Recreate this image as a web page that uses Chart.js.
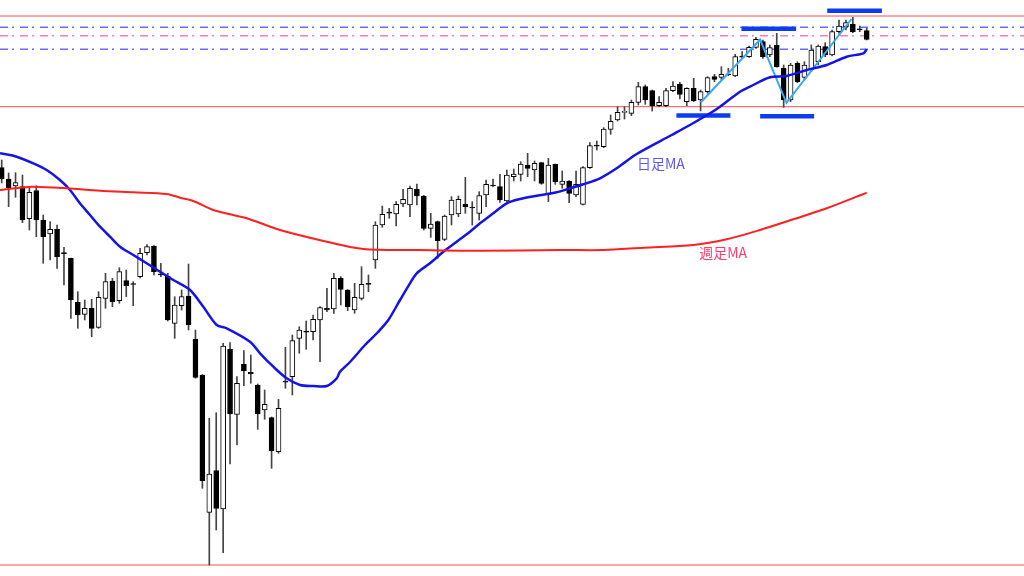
<!DOCTYPE html>
<html>
<head>
<meta charset="utf-8">
<script src="https://cdn.jsdelivr.net/npm/chart.js@4.4.1/dist/chart.umd.min.js"></script>
<style>
  html,body{margin:0;padding:0;background:#fff}
  #wrap{width:1024px;height:576px;position:relative}
</style>
</head>
<body>
<div id="wrap"><canvas id="chart"></canvas></div>
<script>
// Daily candles (index 0 = leftmost candle)
const opens = [10323,10210,10140,10133,9813,10093,9800,9660,9707,9470,9417,8977,8857,8917,8727,9017,9190,8993,9193,9160,
  9233,9473,9540,9257,9240,8767,8943,9040,8610,8250,6877,7293,6910,8507,7857,8357,8277,8150,7900,7823,
  7483,8183,8233,8617,8683,8683,8800,8917,8910,9217,9100,8900,9017,9167,9400,9750,9873,9860,9960,9950,
  10107,10040,9717,9783,9607,9850,9860,9957,9925,9867,10050,10150,10133,9990,10233,10257,10350,10300,10373,10057,
  10357,10157,10190,10050,9957,10323,10543,10533,10705,10800,10877,10867,10977,11133,11093,10943,10943,11093,11157,10983,
  11117,11000,11083,11233,11227,11257,11240,11433,11433,11527,11583,11450,11550,11317,11000,11367,11227,11300,11383,11533,
  11450,11683,11733,11760,11707,11693];
const highs = [10400,10270,10273,10250,10123,10143,9850,9783,9750,9527,9420,9083,9000,9007,9083,9267,9217,9323,9300,9183,
  9517,9553,9545,9367,9267,9033,9100,9360,8700,8255,7817,7873,8567,8573,8233,8493,8450,8160,8100,7830,
  8007,8527,8650,8733,8790,8850,8933,9117,9267,9233,9105,9167,9333,9250,9783,9940,9917,9983,10107,10140,
  10160,10045,9867,9790,9850,10033,10040,10227,9983,10083,10200,10210,10257,10300,10310,10383,10467,10390,10375,10417,
  10360,10290,10195,10290,10333,10573,10590,10723,10850,10933,10933,11000,11177,11150,11100,11033,11117,11183,11177,11123,
  11217,11100,11233,11257,11333,11317,11457,11483,11540,11627,11600,11550,11667,11350,11367,11383,11383,11550,11550,11573,
  11700,11800,11800,11827,11740,11717];
const lows = [10170,9933,10027,9773,9700,9633,9367,9400,9317,9150,8817,8717,8800,8633,8717,8917,8933,8967,9033,8943,
  9220,9450,9250,9233,8790,8617,8900,8700,8217,7117,6350,6700,6473,7360,7550,8143,8167,7707,7807,7317,
  7467,8117,8050,8467,8507,8600,8383,8883,8867,8950,8893,8867,9000,9083,9317,9727,9817,9740,9933,9833,
  9950,9700,9627,9417,9593,9750,9833,9867,9750,9800,9933,10133,9977,9983,10190,10190,10233,10190,10157,9983,
  10157,10117,9973,10033,9950,10317,10500,10523,10657,10790,10810,10843,10950,10957,10890,10933,10933,11083,11010,10943,
  10983,10890,11067,11183,11200,11243,11233,11417,11427,11517,11417,11433,11327,10927,10983,11173,11200,11283,11350,11433,
  11440,11667,11700,11673,11683,11600];
const closes = [10210,10123,10173,9800,10077,9800,9633,9707,9433,9464,9000,8850,8917,8717,9027,9183,8983,9283,9143,9155,
  9467,9533,9283,9252,8800,8950,9033,8750,8227,7193,7260,6917,8540,7860,8167,8290,8260,7860,7957,7493,
  7917,8178,8593,8700,8678,8807,8923,8900,9217,9107,8933,9027,9157,9157,9750,9857,9868,9957,10007,10117,
  10040,9717,9760,9593,9840,10000,10007,9933,9920,10045,10157,10140,10000,10250,10260,10360,10317,10367,10167,10350,
  10183,10190,10067,10157,10323,10543,10538,10710,10787,10877,10883,10977,11133,11000,10940,10977,11093,11140,11057,11117,
  10990,11083,11223,11207,11257,11252,11433,11428,11527,11607,11433,11523,11333,11000,11350,11183,11350,11500,11540,11450,
  11683,11740,11773,11683,11702,11607];

// Daily MA, read at sample candle positions
const dailyMaX = [-0.25,1.68,4.57,6.5,8.42,9.87,11.31,12.76,14.21,15.65,17.1,19.02,20.95,22.88,24.8,27.21,29.13,31.07,32.51,35.88,
  37.33,39.25,41.18,43.11,45.03,46.97,48.41,48.89,50.33,52.5,54.38,55.87,57.56,59.0,59.97,61.89,63.82,65.75,67.67,69.12,
  71.04,72.98,74.9,77.31,80.2,82.12,84.05,86.46,88.87,91.76,96.82,99.46,102.36,103.8,106.69,108.13,111.02,113.44,116.33,119.22,
  122.11,124.51,125.0];
const dailyMaY = [10467,10443,10367,10300,10200,10100,9967,9850,9733,9633,9533,9450,9367,9283,9200,9100,8933,8750,8717,8583,
  8467,8333,8217,8150,8140,8140,8217,8283,8380,8550,8680,8800,9000,9167,9267,9367,9483,9583,9683,9767,
  9867,9967,10010,10043,10077,10117,10157,10217,10317,10460,10650,10750,10867,10933,11083,11133,11227,11240,11300,11350,
  11433,11467,11507];

// Weekly MA
const weeklyMaX = [-0.25,2.64,4.57,9.39,14.21,19.02,23.84,25.77,27.69,30.58,35.4,40.22,46.97,52.25,60.45,69.12,80.68,86.94,92.72,99.94,
  104.77,109.58,114.39,119.22,125.0];
const weeklyMaY = [10100,10123,10133,10117,10093,10077,10060,10023,9990,9900,9817,9700,9583,9510,9500,9493,9500,9500,9523,9550,
  9607,9700,9807,9917,10073];

// Horizontal levels
const redLevels = [11840,10933,6350];
const blueDashLevels = [11727,11507];
const pinkDashLevels = [11643];

// Zigzag and thick marker bars
const zigX = [101,109.6,113.4,122.8];
const zigY = [10975,11605,10972,11810];
const markerStart = [97.5,106.9,109.6,119.3];
const markerEnd = [105.3,114.8,117.4,127.2];
const markerLevel = [10845,11713,10837,11892];

// Text labels
const labelText = ['日足MA','週足MA'];
const labelX = [91.8,100.8];
const labelY = [10360,9470];
const labelColor = ['#5a5aee','#ff3d6a'];

const X_MIN = -1.7/6.92, X_MAX = X_MIN + 1024/6.92;
const Y_MIN = 6240, Y_MAX = 12000;

function hline(v, color, width, dash){
  return {type:'line', data:[{x:X_MIN,y:v},{x:X_MAX,y:v}], borderColor:color, borderWidth:width,
    borderDash:dash||[], pointRadius:0, order:3};
}

const datasets = [];
redLevels.forEach(v=>datasets.push(hline(v,'#ff4a4a',1)));
blueDashLevels.forEach(v=>datasets.push(hline(v,'#6a6aff',1.5,[8,4,2,6])));
pinkDashLevels.forEach(v=>datasets.push(hline(v,'#ff7ac0',1.5,[8,4,2,6])));

// wicks behind bodies
datasets.push({type:'bar', data:lows.map((l,i)=>({x:i,y:[l,highs[i]]})), backgroundColor:'#444',
  barThickness:1, grouped:false, order:2});
datasets.push({type:'bar', data:opens.map((o,i)=>({x:i,y:[o,closes[i]]})),
  backgroundColor:opens.map((o,i)=>closes[i]>=o?'#fff':'#000'), borderColor:'#000', borderWidth:1,
  borderSkipped:false, barThickness:5, minBarLength:1, grouped:false, order:1});

datasets.push({type:'line', data:weeklyMaX.map((x,i)=>({x,y:weeklyMaY[i]})), borderColor:'#ff2020',
  borderWidth:2, pointRadius:0, tension:0.3, order:0});
datasets.push({type:'line', data:dailyMaX.map((x,i)=>({x,y:dailyMaY[i]})), borderColor:'#1414e6',
  borderWidth:2.5, pointRadius:0, tension:0.3, order:0});
datasets.push({type:'line', data:zigX.map((x,i)=>({x,y:zigY[i]})), borderColor:'#3aa8f0',
  borderWidth:2, pointRadius:0, order:0});
markerStart.forEach((s,i)=>datasets.push({type:'line', data:[{x:s,y:markerLevel[i]},{x:markerEnd[i],y:markerLevel[i]}],
  borderColor:'#0a3cf0', borderWidth:4.5, borderCapStyle:'butt', pointRadius:0, order:0}));

const labelPlugin = {
  id:'labels',
  afterDatasetsDraw(chart){
    const {ctx, scales:{x,y}} = chart;
    ctx.save();
    ctx.font = '14px "Noto Sans CJK JP", sans-serif';
    ctx.textBaseline = 'middle';
    labelText.forEach((t,i)=>{
      ctx.fillStyle = labelColor[i];
      ctx.fillText(t, x.getPixelForValue(labelX[i]), y.getPixelForValue(labelY[i]));
    });
    ctx.restore();
  }
};

new Chart(document.getElementById('chart'), {
  type:'bar',
  data:{datasets},
  options:{
    responsive:true, maintainAspectRatio:false, animation:false,
    layout:{padding:0},
    plugins:{legend:{display:false}, tooltip:{enabled:false}},
    scales:{
      x:{type:'linear', min:X_MIN, max:X_MAX, offset:false, display:false},
      y:{min:Y_MIN, max:Y_MAX, display:false}
    }
  },
  plugins:[labelPlugin]
});
</script>
</body>
</html>
